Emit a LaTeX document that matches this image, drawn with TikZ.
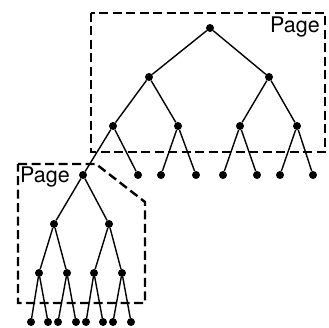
\documentclass[tikz,border=0pt]{standalone}
\usepackage{fontspec}
\setmainfont{TeX Gyre Heros}
\begin{document}
\begin{tikzpicture}[x=1pt,y=-1pt,
  dot/.style={circle,fill=black,inner sep=0pt,minimum size=8pt},
  edge/.style={line width=1.4pt},
  pagebox/.style={line width=2.4pt,dash pattern=on 9pt off 4.5pt},
  lbl/.style={inner sep=0pt,font=\fontsize{21.5}{24}\selectfont}]
\useasboundingbox (0,0) rectangle (329,328);
% top tree
\node[dot] (r) at (210,28) {};
\node[dot] (a1) at (149,77) {};
\node[dot] (a2) at (269,77) {};
\node[dot] (b1) at (113,126) {};
\node[dot] (b2) at (178,126) {};
\node[dot] (b3) at (240,126) {};
\node[dot] (b4) at (297,126) {};
\node[dot] (c1) at (83,175) {};
\node[dot] (c2) at (138,175) {};
\node[dot] (c3) at (161,175) {};
\node[dot] (c4) at (196,175) {};
\node[dot] (c5) at (223,175) {};
\node[dot] (c6) at (257,175) {};
\node[dot] (c7) at (280,175) {};
\node[dot] (c8) at (313,175) {};
\draw[edge] (r)--(a1) (r)--(a2)
  (a1)--(b1) (a1)--(b2) (a2)--(b3) (a2)--(b4)
  (b1)--(c1) (b1)--(c2) (b2)--(c3) (b2)--(c4)
  (b3)--(c5) (b3)--(c6) (b4)--(c7) (b4)--(c8);
% lower tree
\node[dot] (d1) at (54,224) {};
\node[dot] (d2) at (109,224) {};
\node[dot] (e1) at (39,273) {};
\node[dot] (e2) at (67,273) {};
\node[dot] (e3) at (94,273) {};
\node[dot] (e4) at (122,273) {};
\node[dot] (f1) at (31,322) {};
\node[dot] (f2) at (48,322) {};
\node[dot] (f3) at (58,322) {};
\node[dot] (f4) at (76,322) {};
\node[dot] (f5) at (86,322) {};
\node[dot] (f6) at (103,322) {};
\node[dot] (f7) at (113,322) {};
\node[dot] (f8) at (131,322) {};
\draw[edge] (c1)--(d1) (c1)--(d2)
  (d1)--(e1) (d1)--(e2) (d2)--(e3) (d2)--(e4)
  (e1)--(f1) (e1)--(f2) (e2)--(f3) (e2)--(f4)
  (e3)--(f5) (e3)--(f6) (e4)--(f7) (e4)--(f8);
% page boxes
\draw[pagebox] (91,13) rectangle (325,152);
\draw[pagebox] (18,164) -- (96,164) -- (145,202) -- (145,303) -- (18,303) -- cycle;
\node[lbl,anchor=base east] (p1) at (320,33) {Page};
\node[lbl,anchor=base west] (p2) at (20,183) {Page};
\end{tikzpicture}
\end{document}
